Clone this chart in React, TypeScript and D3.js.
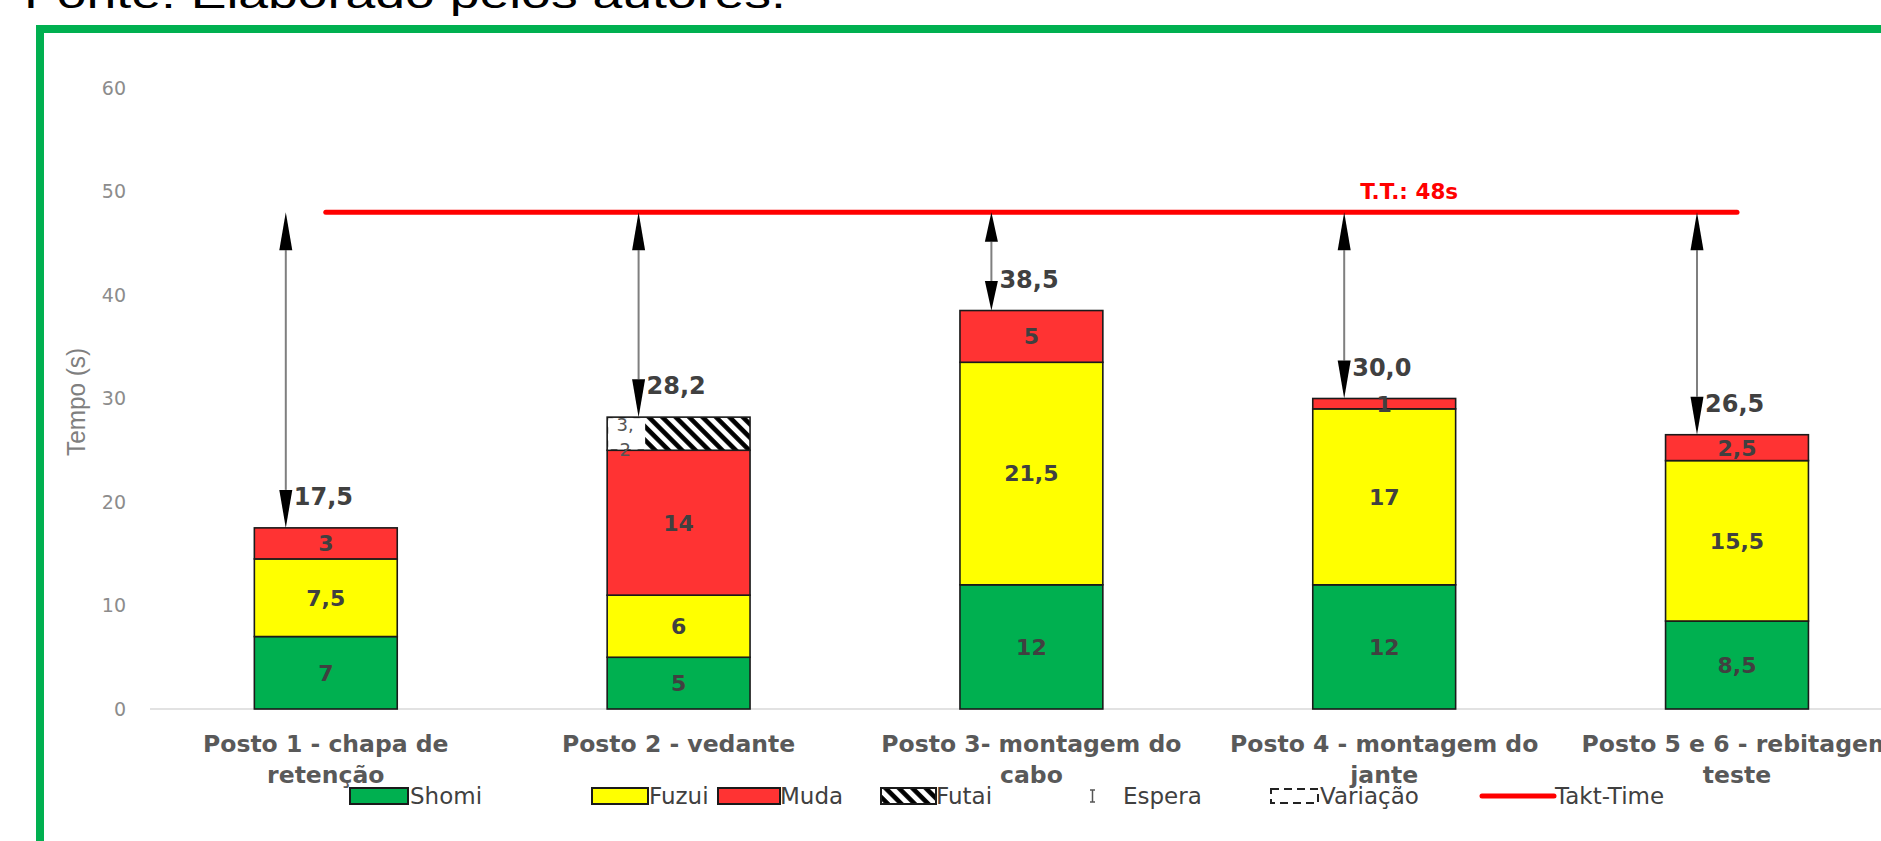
import React from "react";
import * as d3 from "d3";

const categoryLines: string[][] = [
  ["Posto 1 - chapa de", "retenção"],
  ["Posto 2 - vedante"],
  ["Posto 3- montagem do", "cabo"],
  ["Posto 4 - montagem do", "jante"],
  ["Posto 5 e 6 - rebitagem", "teste"],
];
const shomi = [7, 5, 12, 12, 8.5];
const fuzui = [7.5, 6, 21.5, 17, 15.5];
const muda = [3, 14, 5, 1, 2.5];
const futai = [0, 3.2, 0, 0, 0];
const taktTime = 48;
const yTicks = [0, 10, 20, 30, 40, 50, 60];
const seriesKeys = ["shomi", "fuzui", "muda", "futai"];
const legendLabels = ["Shomi", "Fuzui", "Muda", "Futai", "Espera", "Variação", "Takt-Time"];

const W = 1881;
const H = 841;
const FONT = "'DejaVu Sans', Verdana, sans-serif";
const colors: Record<string, string> = {
  shomi: "#00b050",
  fuzui: "#ffff00",
  muda: "#ff3333",
  futai: "url(#hatch)",
};

const fmt = (v: number) => String(v).replace(".", ",");
const fmtTotal = (v: number) => d3.format(".1f")(v).replace(".", ",");

export default function App() {
  const rows = categoryLines.map((c, i) => ({
    idx: i,
    shomi: shomi[i],
    fuzui: fuzui[i],
    muda: muda[i],
    futai: futai[i],
  }));
  const totals = rows.map((r) => r.shomi + r.fuzui + r.muda + r.futai);

  const x = d3
    .scaleBand<number>()
    .domain(rows.map((r) => r.idx))
    .range([149.4, 1913.4])
    .paddingInner(0.595)
    .paddingOuter(0.2975);
  const y = d3.scaleLinear().domain([0, 60]).range([709, 88]);
  const bw = x.bandwidth();
  const stack = d3.stack<any>().keys(seriesKeys);
  const series = stack(rows);

  const arrowX = (i: number) => (x(i) as number) + bw * 0.22;
  const center = (i: number) => (x(i) as number) + bw / 2;

  const legendY = 796;
  const legendItems = [
    { kind: "rect", fill: colors.shomi, x0: 350, x1: 408, tx: 410 },
    { kind: "rect", fill: colors.fuzui, x0: 592, x1: 648, tx: 649 },
    { kind: "rect", fill: colors.muda, x0: 718, x1: 780, tx: 780 },
    { kind: "rect", fill: colors.futai, x0: 881, x1: 936, tx: 936 },
    { kind: "espera", fill: "none", x0: 1090, x1: 1095, tx: 1123 },
    { kind: "dash", fill: "none", x0: 1271, x1: 1318, tx: 1320 },
    { kind: "line", fill: "none", x0: 1482, x1: 1554, tx: 1555 },
  ];

  return (
    <svg
      width={W}
      height={H}
      style={{ position: "absolute", left: 0, top: 0, background: "#fff" }}
    >
      <defs>
        <pattern
          id="hatch"
          patternUnits="userSpaceOnUse"
          width={9.5}
          height={9.5}
          patternTransform="rotate(-45)"
        >
          <rect width={9.5} height={9.5} fill="#fff" />
          <line x1={2.4} y1={0} x2={2.4} y2={9.5} stroke="#000" strokeWidth={4.6} />
        </pattern>
        <clipPath id="clipAll">
          <rect x={0} y={0} width={W} height={H} />
        </clipPath>
      </defs>
      <rect x={0} y={0} width={W} height={H} fill="#fff" />

      {/* caption cut at top */}
      <text
        x={24}
        y={8}
        fontFamily="'Liberation Sans', Arial, sans-serif"
        fontSize={40}
        fill="#000"
        textLength={762}
        lengthAdjust="spacingAndGlyphs"
      >
        Fonte: Elaborado pelos autores.
      </text>

      {/* green frame */}
      <rect x={40} y={29} width={3000} height={3000} fill="#fff" stroke="#00b050" strokeWidth={8} />

      {/* y axis tick labels */}
      {yTicks.map((t) => (
        <text
          key={t}
          x={126}
          y={y(t)}
          dy="0.35em"
          textAnchor="end"
          fontFamily={FONT}
          fontSize={19}
          fill="#8c8c8c"
        >
          {t}
        </text>
      ))}
      <text
        transform={`translate(76,402) rotate(-90)`}
        textAnchor="middle"
        dy="0.35em"
        fontFamily="'Liberation Sans', Arial, sans-serif"
        fontSize={26}
        fill="#7f7f7f"
        textLength={108}
        lengthAdjust="spacingAndGlyphs"
      >
        Tempo (s)
      </text>

      {/* baseline */}
      <line x1={150} x2={W} y1={y(0)} y2={y(0)} stroke="#d9d9d9" strokeWidth={1.5} />

      {/* bars */}
      {series.map((s) =>
        s.map((d, i) => {
          const v = d[1] - d[0];
          if (v <= 0) return null;
          const top = y(d[1]);
          const h = y(d[0]) - y(d[1]);
          const x0 = x(i) as number;
          return (
            <g key={s.key + i}>
              <rect
                x={x0}
                y={top}
                width={bw}
                height={h}
                fill={colors[s.key]}
                stroke="#1a1a1a"
                strokeWidth={1.6}
              />
            </g>
          );
        })
      )}

      {/* segment labels */}
      {series.map((s) =>
        s.map((d, i) => {
          const v = d[1] - d[0];
          if (v <= 0) return null;
          const top = y(d[1]);
          const h = y(d[0]) - y(d[1]);
          const x0 = x(i) as number;
          if (s.key === "futai") {
            const str = fmt(Math.round(v * 10) / 10);
            const k = str.indexOf(",") + 1;
            return (
              <g key={"l" + s.key + i}>
                <rect x={x0 + 1} y={top + 1} width={37} height={h - 2} fill="#fff" />
                <text
                  x={x0 + 18}
                  y={top + 14}
                  textAnchor="middle"
                  fontFamily={FONT}
                  fontSize={18}
                  fill="#555"
                >
                  {str.slice(0, k)}
                </text>
                <text
                  x={x0 + 18}
                  y={top + h + 6}
                  textAnchor="middle"
                  fontFamily={FONT}
                  fontSize={18}
                  fill="#555"
                >
                  {str.slice(k)}
                </text>
              </g>
            );
          }
          return (
            <text
              key={"l" + s.key + i}
              x={x0 + bw / 2}
              y={top + h / 2}
              dy="0.36em"
              textAnchor="middle"
              fontFamily={FONT}
              fontWeight="bold"
              fontSize={22}
              fill="#404040"
            >
              {fmt(v)}
            </text>
          );
        })
      )}

      {/* takt time line */}
      <line
        x1={center(0)}
        x2={center(rows.length - 1)}
        y1={y(taktTime)}
        y2={y(taktTime)}
        stroke="#ff0000"
        strokeWidth={5}
        strokeLinecap="round"
      />
      <text
        x={center(3) + 25}
        y={y(taktTime) - 13}
        textAnchor="middle"
        fontFamily={FONT}
        fontWeight="bold"
        fontSize={21.5}
        fill="#ff0000"
      >
        {`T.T.: ${taktTime}s`}
      </text>

      {/* arrows */}
      {totals.map((t, i) => {
        const ax = arrowX(i);
        const yTop = y(taktTime);
        const yBot = y(t);
        const gap = yBot - yTop;
        const hl = Math.min(38, gap * 0.3);
        const hw = 6.5;
        return (
          <g key={"a" + i}>
            <line x1={ax} x2={ax} y1={yTop + hl} y2={yBot - hl} stroke="#7f7f7f" strokeWidth={2} />
            <path d={`M${ax},${yTop} L${ax - hw},${yTop + hl} L${ax + hw},${yTop + hl} Z`} fill="#000" />
            <path d={`M${ax},${yBot} L${ax - hw},${yBot - hl} L${ax + hw},${yBot - hl} Z`} fill="#000" />
            <text
              x={ax + 8}
              y={yBot - 23}
              fontFamily={FONT}
              fontWeight="bold"
              fontSize={24}
              fill="#404040"
            >
              {fmtTotal(t)}
            </text>
          </g>
        );
      })}

      {/* category labels */}
      <g clipPath="url(#clipAll)">
        {categoryLines.map((lines, i) =>
          lines.map((ln, j) => (
            <text
              key={"c" + i + j}
              x={center(i)}
              y={752 + j * 31}
              textAnchor="middle"
              fontFamily={FONT}
              fontWeight="bold"
              fontSize={23.5}
              fill="#595959"
            >
              {ln}
            </text>
          ))
        )}
      </g>

      {/* legend */}
      {legendItems.map((it, k) => (
        <g key={"lg" + k}>
          {it.kind === "rect" && (
            <rect
              x={it.x0}
              y={legendY - 8}
              width={it.x1 - it.x0}
              height={16}
              fill={it.fill}
              stroke="#1a1a1a"
              strokeWidth={2}
            />
          )}
          {it.kind === "espera" && (
            <g stroke="#555" strokeWidth={1.5}>
              <line x1={(it.x0 + it.x1) / 2} x2={(it.x0 + it.x1) / 2} y1={legendY - 6} y2={legendY + 6} />
              <line x1={it.x0} x2={it.x1} y1={legendY - 6} y2={legendY - 6} />
              <line x1={it.x0} x2={it.x1} y1={legendY + 6} y2={legendY + 6} />
            </g>
          )}
          {it.kind === "dash" && (
            <rect
              x={it.x0}
              y={legendY - 7}
              width={it.x1 - it.x0}
              height={14}
              fill="none"
              stroke="#222"
              strokeWidth={2}
              strokeDasharray="8,5"
            />
          )}
          {it.kind === "line" && (
            <line
              x1={it.x0}
              x2={it.x1}
              y1={legendY}
              y2={legendY}
              stroke="#ff0000"
              strokeWidth={5}
              strokeLinecap="round"
            />
          )}
          <text
            x={it.tx}
            y={legendY}
            dy="0.36em"
            fontFamily={FONT}
            fontSize={23}
            fill="#404040"
          >
            {legendLabels[k]}
          </text>
        </g>
      ))}
    </svg>
  );
}
